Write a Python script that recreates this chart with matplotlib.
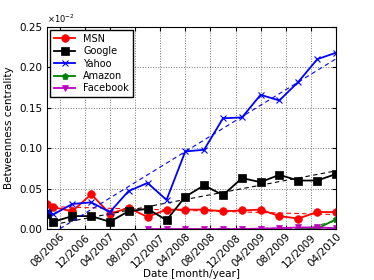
import datetime as dt
import numpy as np
import matplotlib
matplotlib.use('Agg')
import matplotlib.pyplot as plt
import matplotlib.dates as mdates

# sampling dates (first of month)
months = [(2006, 6), (2006, 7), (2006, 10), (2007, 1), (2007, 4), (2007, 7),
          (2007, 10), (2008, 1), (2008, 4), (2008, 7), (2008, 10), (2009, 1),
          (2009, 4), (2009, 7), (2009, 10), (2010, 1), (2010, 4)]
dates = [dt.date(y, m, 1) for y, m in months]

# betweenness centrality, units of 1e-2
msn = [0.031, 0.027, 0.022, 0.043, 0.019, 0.026, 0.015, 0.024, 0.024,
       0.024, 0.022, 0.023, 0.024, 0.016, 0.013, 0.021, 0.021]
google = [0.018, 0.009, 0.016, 0.016, 0.009, 0.022, 0.025, 0.011, 0.040,
          0.054, 0.042, 0.063, 0.058, 0.067, 0.060, 0.060, 0.068]
yahoo = [0.022, 0.018, 0.031, 0.033, 0.021, 0.047, 0.057, 0.036, 0.096,
         0.098, 0.137, 0.138, 0.166, 0.159, 0.182, 0.210, 0.218]
# Amazon and Facebook only appear late
amazon_start = 14
amazon = [0.0005, 0.0005, 0.012]
facebook_start = 6
facebook = [0.0, 0.0, 0.0, 0.0, 0.0, 0.0, 0.0005, 0.001, 0.002, 0.002, 0.001]

series = [
    ('MSN', msn, 0, 'r', 'o'),
    ('Google', google, 0, 'k', 's'),
    ('Yahoo', yahoo, 0, 'b', 'x'),
    ('Amazon', amazon, amazon_start, 'g', 'p'),
    ('Facebook', facebook, facebook_start, 'm', 'v'),
]

fig = plt.figure(figsize=(3.74, 2.8), dpi=100)
ax = fig.add_axes([0.126, 0.182, 0.772, 0.722])

xnum = mdates.date2num(dates)
for name, vals, start, col, mk in series:
    x = xnum[start:start + len(vals)]
    ms = {'o': 5.5, 's': 5.5, 'x': 5, 'p': 5, 'v': 4.5}[mk]
    ax.plot(x, vals, color=col, marker=mk, lw=1.3, ms=ms,
            mew=0.8 if mk == 'x' else 0.5, mec='k' if mk == 's' else col,
            label=name)
    # linear trend, dashed
    xf = x[1:] if start == 0 else x
    vf = vals[1:] if start == 0 else vals
    p = np.polyfit(xf - xf[0], vf, 1)
    ax.plot(xf, np.polyval(p, xf - xf[0]), color=col, ls='--', lw=0.8,
            dashes=(4, 3))

ax.set_xlim(xnum[0], xnum[-1])
ax.set_ylim(0, 0.25)
ax.set_yticks([0, 0.05, 0.10, 0.15, 0.20, 0.25])
ax.set_yticklabels(['0.00', '0.05', '0.10', '0.15', '0.20', '0.25'])
ax.xaxis.set_major_locator(mdates.MonthLocator(bymonth=[4, 8, 12]))
ax.xaxis.set_major_formatter(mdates.DateFormatter('%m/%Y'))
for lbl in ax.get_xticklabels():
    lbl.set_rotation(45)
    lbl.set_ha('right')
    lbl.set_rotation_mode('anchor')
ax.tick_params(direction='in', labelsize=7.5, top=True, right=True, length=3)
ax.tick_params(axis='x', pad=2)
ax.grid(True, color='0.45', ls=':', lw=0.7)
ax.text(0.0, 1.01, r'$\times10^{-2}$', transform=ax.transAxes, fontsize=6,
        va='bottom', ha='left')

ax.set_ylabel('Betweenness centrality', fontsize=7.5)
ax.set_xlabel('Date [month/year]', fontsize=7.5, labelpad=0)
ax.legend(loc='upper left', fontsize=7, numpoints=1, fancybox=False,
          framealpha=1, edgecolor='k', handlelength=2.2, borderpad=0.4,
          labelspacing=0.25, borderaxespad=0.3)

fig.savefig('out.png', dpi=100)
